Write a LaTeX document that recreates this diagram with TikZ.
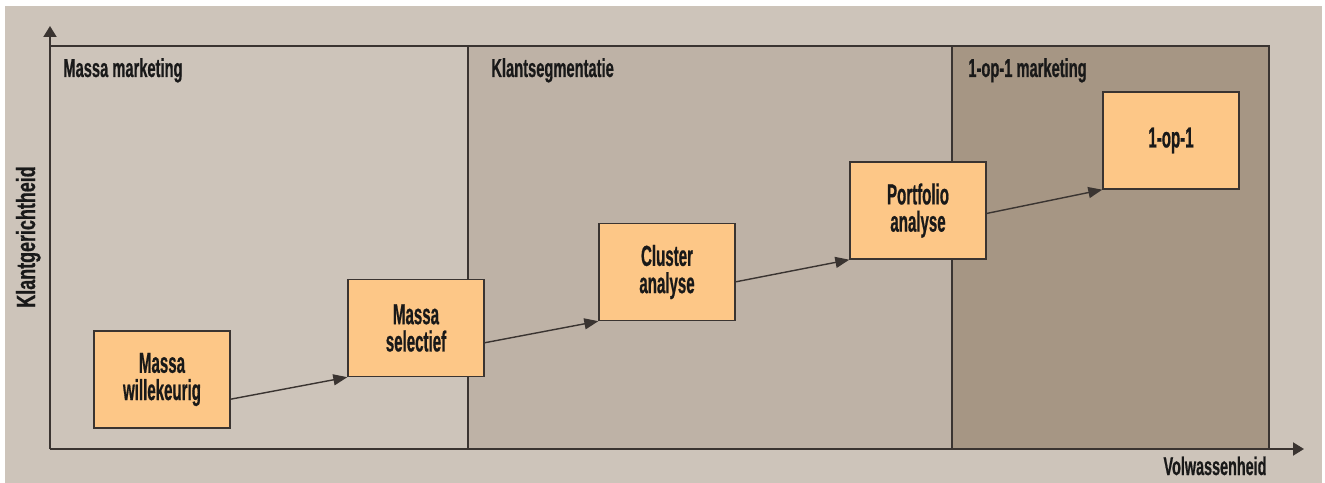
\documentclass[tikz,border=0pt]{standalone}
\usepackage{fontspec}
\setmainfont{Liberation Sans}[FakeStretch=0.52,FakeBold=0.6]
\newfontfamily\widerfont{Liberation Sans}[FakeStretch=0.68,FakeBold=0.6]
\newfontfamily\labelfont{Liberation Sans}[FakeStretch=0.565,FakeBold=0.6]
\usetikzlibrary{calc,arrows.meta}
\definecolor{bgc}{HTML}{CDC4BA}
\definecolor{regtwo}{HTML}{BEB2A6}
\definecolor{regthree}{HTML}{A69684}
\definecolor{boxc}{HTML}{FDC787}
\definecolor{linec}{HTML}{3A3431}
\begin{document}
\begin{tikzpicture}[x=0.02cm,y=-0.02cm,
  stagebox/.style={draw=linec,line width=0.8pt,fill=boxc,minimum width=2.72cm,minimum height=1.94cm,
    align=center,font=\bfseries\fontsize{16.5}{15.5}\selectfont,text=black!90,inner sep=0pt},
  regionlabel/.style={anchor=base west,font=\labelfont\bfseries\fontsize{14.8}{16}\selectfont,text=black!90,inner sep=0pt},
  axislabel/.style={font=\labelfont\bfseries\fontsize{14.5}{16}\selectfont,text=black!90,inner sep=0pt},
  flow/.style={draw=linec,line width=0.8pt,-{Triangle[length=0.28cm,width=0.22cm]}},
  axis/.style={draw=linec,line width=1.1pt,-{Triangle[length=0.22cm,width=0.26cm]}}]
\useasboundingbox (0,0) rectangle (1325,483);
\fill[white] (0,0) rectangle (1325,483);
\fill[bgc] (5,6) rectangle (1322,483);
\fill[regtwo] (468,46) rectangle (952,449);
\fill[regthree] (952,46) rectangle (1269,449);
\draw[linec,line width=1.1pt] (50,46) -- (1269,46) -- (1269,449);
\draw[linec,line width=0.8pt] (468,46) -- (468,449);
\draw[linec,line width=0.8pt] (952,46) -- (952,449);
\coordinate (origin) at (50,449);
\coordinate (ytip) at (50,26);
\coordinate (xtip) at (1304,449);
\draw[axis] (origin) -- (ytip);
\draw[axis] (origin) -- (xtip);
\node[regionlabel] (l1) at (63,77) {Massa marketing};
\node[regionlabel] (l2) at (491,77) {Klantsegmentatie};
\node[regionlabel] (l3) at (968,77) {1-op-1 marketing};
\node[axislabel,anchor=base] (xl) at (1215,475) {Volwassenheid};
\node[axislabel,rotate=90,anchor=base,font=\widerfont\bfseries\fontsize{15}{16}\selectfont] (yl) at (35,237) {Klantgerichtheid};
\node[stagebox] (a) at (162,379.5) {Massa\\willekeurig};
\node[stagebox] (b) at (416,328) {Massa\\selectief};
\node[stagebox] (c) at (667,272) {Cluster\\analyse};
\node[stagebox] (d) at (918,210.5) {Portfolio\\analyse};
\node[stagebox] (e) at (1171,140.5) {1-op-1};
\draw[flow] ($(a.south east)!0.30!(a.north east)$) -- (b.south west);
\draw[flow] ($(b.south east)!0.35!(b.north east)$) -- (c.south west);
\draw[flow] ($(c.south east)!0.40!(c.north east)$) -- (d.south west);
\draw[flow] ($(d.south east)!0.47!(d.north east)$) -- (e.south west);
\end{tikzpicture}
\end{document}
